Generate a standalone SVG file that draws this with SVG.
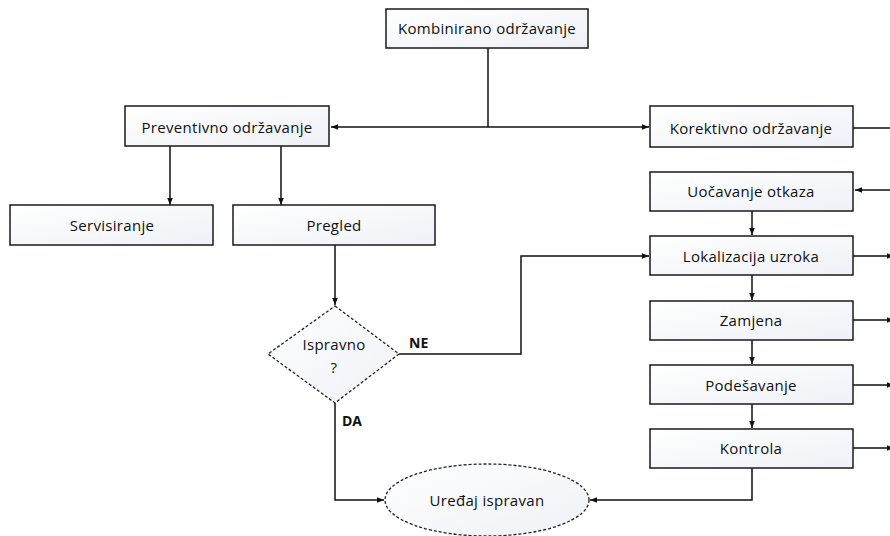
<svg xmlns="http://www.w3.org/2000/svg" width="890" height="536" viewBox="0 0 890 536">
<defs>
<linearGradient id="g" x1="0" y1="0" x2="1" y2="1">
<stop offset="0" stop-color="#ffffff"/>
<stop offset="1" stop-color="#eef1f6"/>
</linearGradient>
<marker id="a" viewBox="0 0 10 10" refX="10" refY="5" markerWidth="7" markerHeight="7" orient="auto" markerUnits="userSpaceOnUse">
<path d="M0,1 L10,5 L0,9 z" fill="#111"/>
</marker>
<style>
.box{fill:url(#g);stroke:#1a1a1a;stroke-width:1.5}
.dash{fill:url(#g);stroke:#222;stroke-width:1.3;stroke-dasharray:3 2}
.t{font-family:"Open Sans","Liberation Sans",sans-serif;font-size:15px;letter-spacing:0.3px;fill:#111;text-anchor:middle;dominant-baseline:central}
.lb{font-family:"Open Sans","Liberation Sans",sans-serif;font-size:14px;font-weight:bold;fill:#111}
.c{fill:none;stroke:#111;stroke-width:1.5}
</style>
</defs>
<rect width="890" height="536" fill="#fff"/>
<g id="connectors">
<path class="c" d="M488,48 V127"/>
<path class="c" d="M488,127 H331" marker-end="url(#a)"/>
<path class="c" d="M488,127 H649" marker-end="url(#a)"/>
<path class="c" d="M170,146 V205" marker-end="url(#a)"/>
<path class="c" d="M281,146 V205" marker-end="url(#a)"/>
<path class="c" d="M335,245 V305" marker-end="url(#a)"/>
<path class="c" d="M399,354 H521 V256 H649" marker-end="url(#a)"/>
<path class="c" d="M335,403 V500 H384" marker-end="url(#a)"/>
<path class="c" d="M752,468 V500 H590" marker-end="url(#a)"/>
<path class="c" d="M752,211 V235" marker-end="url(#a)"/>
<path class="c" d="M752,275 V300" marker-end="url(#a)"/>
<path class="c" d="M752,340 V364" marker-end="url(#a)"/>
<path class="c" d="M752,404 V428" marker-end="url(#a)"/>
<path class="c" d="M853,128 H890"/>
<path class="c" d="M895,190 H855" marker-end="url(#a)"/>
<path class="c" d="M853,256 H894" marker-end="url(#a)"/>
<path class="c" d="M853,320 H894" marker-end="url(#a)"/>
<path class="c" d="M853,385 H894" marker-end="url(#a)"/>
<path class="c" d="M853,448 H894" marker-end="url(#a)"/>
</g>
<g id="kombinirano"><rect class="box" x="386" y="9" width="202" height="39"/><text class="t" x="487" y="28">Kombinirano održavanje</text></g>
<g id="preventivno"><rect class="box" x="125" y="106" width="204" height="40"/><text class="t" x="227" y="127">Preventivno održavanje</text></g>
<g id="korektivno"><rect class="box" x="650" y="106" width="203" height="41"/><text class="t" x="751" y="128">Korektivno održavanje</text></g>
<g id="servisiranje"><rect class="box" x="10" y="205" width="203" height="40"/><text class="t" x="112" y="225">Servisiranje</text></g>
<g id="pregled"><rect class="box" x="233" y="205" width="202" height="40"/><text class="t" x="334" y="225">Pregled</text></g>
<g id="uocavanje"><rect class="box" x="650" y="172" width="203" height="39"/><text class="t" x="751" y="191">Uočavanje otkaza</text></g>
<g id="lokalizacija"><rect class="box" x="650" y="236" width="203" height="39"/><text class="t" x="751" y="256">Lokalizacija uzroka</text></g>
<g id="zamjena"><rect class="box" x="650" y="301" width="203" height="39"/><text class="t" x="751" y="320">Zamjena</text></g>
<g id="podesavanje"><rect class="box" x="650" y="365" width="203" height="39"/><text class="t" x="751" y="385">Podešavanje</text></g>
<g id="kontrola"><rect class="box" x="650" y="429" width="203" height="39"/><text class="t" x="751" y="448">Kontrola</text></g>
<g id="ispravno"><path class="dash" d="M335,306 L399,354 L335,403 L268,354 Z"/><text class="t" x="334" y="344">Ispravno</text><text class="t" x="334" y="367">?</text></g>
<g id="uredaj"><ellipse class="dash" cx="487" cy="500" rx="102" ry="36"/><text class="t" x="487" y="500">Uređaj ispravan</text></g>
<g id="labels"><text class="lb" x="409" y="348">NE</text><text class="lb" x="342" y="426">DA</text></g>
</svg>
